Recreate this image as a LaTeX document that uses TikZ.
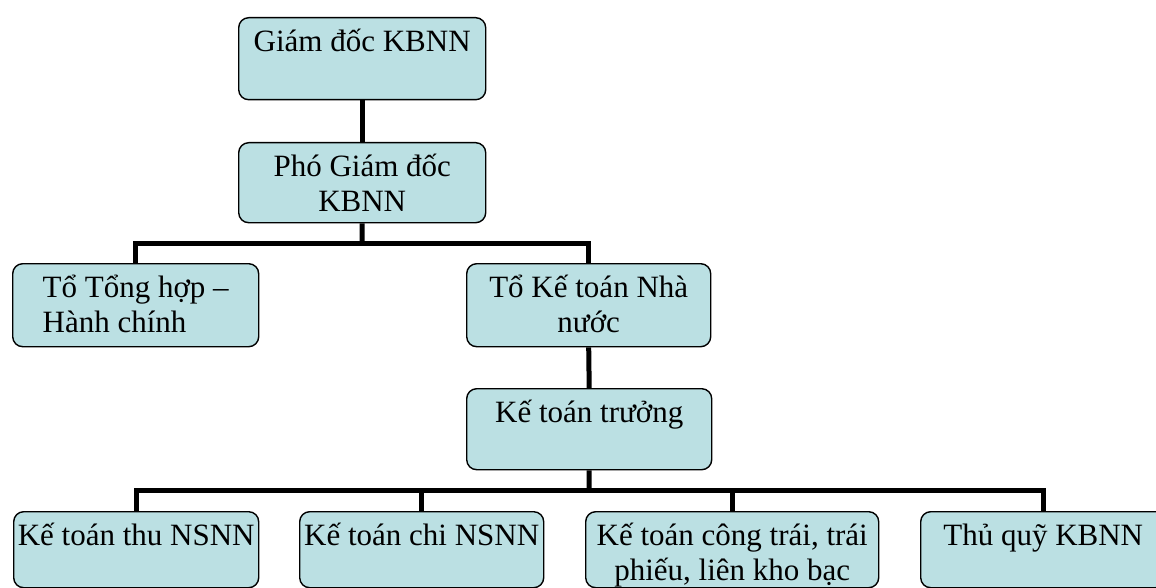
\documentclass[tikz,border=0pt]{standalone}
\usepackage{fontspec}
\setmainfont{Liberation Serif}
\definecolor{boxfill}{RGB}{187,224,227}
\begin{document}
\begin{tikzpicture}[x=1pt,y=-1pt,
  box/.style={draw=black, line width=1.4pt, rounded corners=10pt, fill=boxfill,
    inner xsep=2pt, inner ysep=0pt, text height=34pt, align=center,
    anchor=north west, font=\fontsize{31}{35}\selectfont},
  twoline/.style={text height=69pt},
  conn/.style={draw=black, line width=5pt}]
\clip (0,0) rectangle (1156,588);
\useasboundingbox (0,0) rectangle (1156,588);
% boxes
\node[box, minimum width=247pt, minimum height=82pt, text depth=48pt] (gd) at (238,17) {Giám đốc KBNN};
\node[box, twoline, minimum width=247pt, minimum height=80pt, text depth=11pt] (pgd) at (238,142) {Phó Giám đốc\\KBNN};
\node[box, twoline, minimum width=246pt, minimum height=83pt, text depth=14pt, align=left] (th) at (12,263) {Tổ Tổng hợp –\\Hành chính};
\node[box, twoline, minimum width=244pt, minimum height=83pt, text depth=14pt] (kt) at (466,263) {Tổ Kế toán Nhà\\nước};
\node[box, minimum width=245pt, minimum height=81pt, text depth=47pt] (ktt) at (466,388) {Kế toán trưởng};
\node[box, minimum width=245pt, minimum height=76pt, text depth=42pt, inner xsep=0pt] (b1) at (13,511) {Kế toán thu NSNN};
\node[box, minimum width=244pt, minimum height=76pt, text depth=42pt, inner xsep=0pt] (b2) at (299,511) {Kế toán chi NSNN};
\node[box, twoline, minimum width=293pt, minimum height=76pt, text depth=7pt] (b3) at (585,511) {Kế toán công trái, trái\\phiếu, liên kho bạc};
\node[box, minimum width=245pt, minimum height=76pt, text depth=42pt] (b4) at (920,511) {Thủ quỹ KBNN};
% junctions
\coordinate (j1) at (362,243);
\coordinate (j2) at (589,490);
% connectors
\draw[conn] (gd.south) -- (pgd.north);
\draw[conn] (pgd.south) -- (j1);
\draw[conn] (th.north) -- (th.north |- j1) -- (kt.north |- j1) -- (kt.north);
\draw[conn] (kt.south) -- (ktt.north);
\draw[conn] (ktt.south) -- (j2);
\draw[conn] (b1.north) -- (b1.north |- j2) -- (b4.north |- j2) -- (b4.north);
\draw[conn] (b2.north) -- (b2.north |- j2);
\draw[conn] (b3.north) -- (b3.north |- j2);
\end{tikzpicture}
\end{document}
